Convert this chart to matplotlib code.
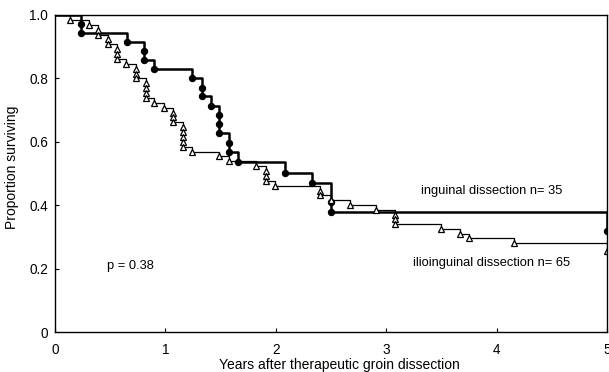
import matplotlib
matplotlib.use("Agg")
import matplotlib.pyplot as plt
import numpy as np

# inguinal dissection (n=35), filled circles: event times and survival after each event
ing_times = [0.235, 0.235, 0.65, 0.81, 0.81, 0.90, 1.24, 1.33, 1.33, 1.41,
             1.49, 1.49, 1.49, 1.58, 1.58, 1.66, 2.08, 2.33, 2.50, 2.50, 5.0]
ing_surv = [0.971, 0.943, 0.914, 0.886, 0.857, 0.829, 0.800, 0.771, 0.743, 0.714,
            0.686, 0.657, 0.629, 0.597, 0.567, 0.537, 0.503, 0.471, 0.410, 0.378, 0.320]

# ilioinguinal dissection (n=65), open triangles
ilio_times = [0.14, 0.31, 0.39, 0.39, 0.48, 0.48, 0.56, 0.56, 0.56, 0.64,
              0.73, 0.73, 0.73, 0.82, 0.82, 0.82, 0.82, 0.90, 0.985,
              1.07, 1.07, 1.07, 1.155, 1.155, 1.155, 1.155, 1.155, 1.245,
              1.49, 1.58, 1.82, 1.91, 1.91, 1.91, 1.99, 2.40, 2.40, 2.50,
              2.67, 2.91, 3.08, 3.08, 3.08, 3.50, 3.67, 3.75, 4.16, 5.0]
ilio_surv = [0.983, 0.968, 0.953, 0.938, 0.923, 0.908, 0.892, 0.877, 0.862, 0.846,
             0.831, 0.815, 0.800, 0.785, 0.769, 0.754, 0.738, 0.723, 0.708,
             0.692, 0.677, 0.662, 0.646, 0.631, 0.615, 0.600, 0.585, 0.569,
             0.554, 0.538, 0.523, 0.508, 0.492, 0.477, 0.462, 0.446, 0.431, 0.415,
             0.400, 0.385, 0.370, 0.355, 0.340, 0.325, 0.310, 0.295, 0.280, 0.256]

x_ticks = [0, 1, 2, 3, 4, 5]
y_ticks = [0, 0.2, 0.4, 0.6, 0.8, 1.0]
y_tick_labels = ["0", "0.2", "0.4", "0.6", "0.8", "1.0"]

plt.rcParams.update({'font.family': ['Liberation Sans', 'DejaVu Sans']})

px = 1 / 100
fig = plt.figure(figsize=(609 * px, 372 * px), dpi=100)
ax = fig.add_axes([55 / 609, 1 - 332 / 372, 552 / 609, 317 / 372])

# step curves
ax.plot([0] + ing_times, [1.0] + ing_surv, drawstyle="steps-post", color="black", lw=1.8)
ax.plot([0] + ilio_times, [1.0] + ilio_surv, drawstyle="steps-post", color="black", lw=0.9)

# markers at each event
ax.plot(ing_times, ing_surv, linestyle="none", marker="o", markersize=4.3,
        markerfacecolor="black", markeredgecolor="black")
ax.plot(ilio_times, ilio_surv, linestyle="none", marker="^", markersize=5,
        markerfacecolor="white", markeredgecolor="black", markeredgewidth=0.9)

ax.set_xlim(0, 5)
ax.set_ylim(0, 1.0)
ax.set_xticks(x_ticks)
ax.set_yticks(y_ticks)
ax.set_yticklabels(y_tick_labels)
ax.tick_params(direction="in", length=3, width=0.8, labelsize=9.8)
ax.tick_params(axis="x", pad=8)
ax.tick_params(axis="y", pad=5)
for s in ax.spines.values():
    s.set_linewidth(1.0)

ax.set_xlabel("Years after therapeutic groin dissection", fontsize=10, va="center")
ax.xaxis.set_label_coords(0.516, -0.104)
ax.set_ylabel("Proportion surviving", fontsize=10, va="center")
ax.yaxis.set_label_coords(-0.078, 0.52)

ax.text(3.315, 0.446, "inguinal dissection n= 35", fontsize=9.3, va="center", ha="left")
ax.text(3.24, 0.218, "ilioinguinal dissection n= 65", fontsize=9.3, va="center", ha="left")
ax.text(0.47, 0.208, "p = 0.38", fontsize=9.3, va="center", ha="left")

plt.savefig("out.png", dpi=100)
plt.close()
